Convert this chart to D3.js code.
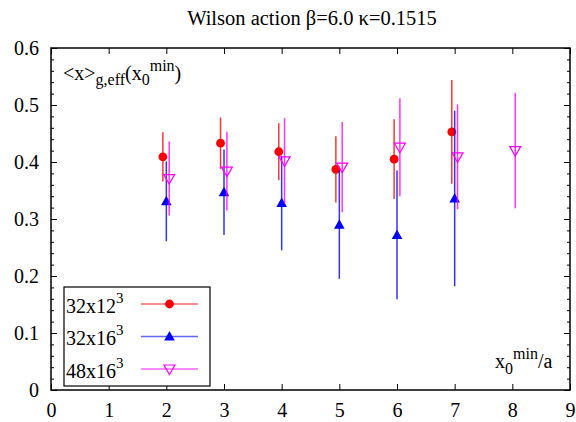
<!DOCTYPE html>
<html>
<head>
<meta charset="utf-8">
<script src="https://cdn.jsdelivr.net/npm/d3@7"></script>
<style>
  body { margin: 0; background: #fff; }
  .axis path, .axis line { stroke: #000; }
</style>
</head>
<body>
<svg id="chart" width="576" height="422"></svg>
<script>
// 32x12^3
const xRed = [1.94, 2.94, 3.95, 4.94, 5.95, 6.95]
const yRed = [0.409, 0.433, 0.418, 0.387, 0.405, 0.453]
const eRed = [0.043, 0.045, 0.050, 0.058, 0.070, 0.091]

// 32x16^3
const xBlue = [2.0, 3.0, 4.0, 5.0, 6.0, 7.0]
const yBlue = [0.331, 0.347, 0.328, 0.290, 0.272, 0.336]
const eBlue = [0.070, 0.075, 0.083, 0.095, 0.113, 0.154]

// 48x16^3
const xPink = [2.05, 3.05, 4.05, 5.05, 6.05, 7.05, 8.05]
const yPink = [0.371, 0.384, 0.402, 0.391, 0.426, 0.409, 0.420]
const ePink = [0.065, 0.069, 0.075, 0.079, 0.086, 0.092, 0.101]

const xTicks = [0, 1, 2, 3, 4, 5, 6, 7, 8, 9]
const yTicks = [0, 0.1, 0.2, 0.3, 0.4, 0.5, 0.6]

const serif = 'Liberation Serif'
const margin = {top: 48, right: 6, bottom: 32, left: 51}
const width = 576 - margin.left - margin.right
const height = 422 - margin.top - margin.bottom

const svg = d3.select('#chart')
const g = svg.append('g')
  .attr('transform', 'translate(' + margin.left + ',' + margin.top + ')')

const x = d3.scaleLinear().domain([0, 9]).range([0, width])
const y = d3.scaleLinear().domain([0, 0.6]).range([height, 0])

// axes, ticks pointing inward
const minorY = d3.range(0, 0.601, 0.02)

g.append('g').attr('class', 'axis')
  .attr('transform', 'translate(0,' + height + ')')
  .call(d3.axisBottom(x).tickValues(xTicks).tickSize(-6).tickPadding(13).tickFormat(d3.format('d')))
  .call(a => a.select('.domain').remove())
g.append('g').attr('class', 'axis')
  .call(d3.axisTop(x).tickValues(xTicks).tickSize(-6).tickFormat(''))
  .call(a => a.select('.domain').remove())

g.append('g').attr('class', 'axis')
  .call(d3.axisLeft(y).tickValues(minorY).tickSize(-3).tickFormat(''))
  .call(a => a.select('.domain').remove())
g.append('g').attr('class', 'axis')
  .call(d3.axisLeft(y).tickValues(yTicks).tickSize(-6).tickPadding(12).tickFormat(d => d === 0 ? '0' : d3.format('.1f')(d)))
  .call(a => a.select('.domain').remove())
g.append('g').attr('class', 'axis')
  .attr('transform', 'translate(' + width + ',0)')
  .call(d3.axisRight(y).tickValues(minorY).tickSize(-3).tickFormat(''))
  .call(a => a.select('.domain').remove())
g.append('g').attr('class', 'axis')
  .attr('transform', 'translate(' + width + ',0)')
  .call(d3.axisRight(y).tickValues(yTicks).tickSize(-6).tickFormat(''))
  .call(a => a.select('.domain').remove())

g.selectAll('.axis').attr('font-family', serif).attr('font-size', 20)
g.selectAll('.axis text').attr('fill', '#000')

g.append('rect')
  .attr('width', width).attr('height', height)
  .attr('fill', 'none').attr('stroke', '#000').attr('stroke-width', 1.5)

const series = [
  {name: '32x12', xs: xRed, ys: yRed, es: eRed, color: '#ff0000', symbol: 'circle'},
  {name: '32x16', xs: xBlue, ys: yBlue, es: eBlue, color: '#0000ff', symbol: 'up'},
  {name: '48x16', xs: xPink, ys: yPink, es: ePink, color: '#ff00ff', symbol: 'down'}
]

function drawMarker (sel, s, cx, cy) {
  if (s.symbol === 'circle') {
    sel.append('circle').attr('cx', cx).attr('cy', cy).attr('r', 4.4).attr('fill', s.color)
  } else if (s.symbol === 'up') {
    sel.append('path')
      .attr('d', 'M' + cx + ',' + (cy - 5.5) + 'L' + (cx + 5.3) + ',' + (cy + 4) + 'L' + (cx - 5.3) + ',' + (cy + 4) + 'Z')
      .attr('fill', s.color)
  } else {
    sel.append('path')
      .attr('d', 'M' + cx + ',' + (cy + 5.5) + 'L' + (cx + 5.5) + ',' + (cy - 4) + 'L' + (cx - 5.5) + ',' + (cy - 4) + 'Z')
      .attr('fill', 'none').attr('stroke', s.color).attr('stroke-width', 1.2)
  }
}

series.forEach(s => {
  const sg = g.append('g')
  s.xs.forEach((xv, i) => {
    sg.append('line')
      .attr('x1', x(xv)).attr('x2', x(xv))
      .attr('y1', y(s.ys[i] - s.es[i])).attr('y2', y(s.ys[i] + s.es[i]))
      .attr('stroke', s.color).attr('stroke-width', 1.5).attr('stroke-opacity', 0.8)
  })
  s.xs.forEach((xv, i) => drawMarker(sg, s, x(xv), y(s.ys[i])))
})

// legend
const lg = g.append('g').attr('transform', 'translate(13,239)')
lg.append('rect').attr('width', 146).attr('height', 99)
  .attr('fill', '#fff').attr('stroke', '#000').attr('stroke-width', 1.2)
series.forEach((s, i) => {
  const yy = 17 + i * 32.5
  const t = lg.append('text').attr('x', 2).attr('y', yy + 8.5)
    .attr('font-family', serif).attr('font-size', 20).attr('fill', '#000')
  t.append('tspan').text(s.name)
  t.append('tspan').attr('dy', -10).attr('font-size', 15).text('3')
  lg.append('line').attr('x1', 77).attr('x2', 134).attr('y1', yy).attr('y2', yy)
    .attr('stroke', s.color).attr('stroke-width', 1.5).attr('stroke-opacity', 0.6)
  drawMarker(lg, s, 105.5, yy)
})

// title
svg.append('text').attr('x', 312).attr('y', 25).attr('text-anchor', 'middle')
  .attr('font-family', serif).attr('font-size', 20.5).attr('fill', '#000')
  .text('Wilson action \u03b2=6.0 \u03ba=0.1515')

// y label
const yl = svg.append('text').attr('x', 63).attr('y', 80)
  .attr('font-family', serif).attr('font-size', 20).attr('fill', '#000')
yl.append('tspan').text('<x>')
yl.append('tspan').attr('dy', 5).attr('font-size', 16).text('g,eff')
yl.append('tspan').attr('dy', -5).text('(x')
yl.append('tspan').attr('dy', 5).attr('font-size', 16).text('0')
yl.append('tspan').attr('dy', -14).attr('font-size', 16).text('min')
yl.append('tspan').attr('dy', 9).text(')')

// x label
const xl = svg.append('text').attr('x', 495).attr('y', 368)
  .attr('font-family', serif).attr('font-size', 20).attr('fill', '#000')
xl.append('tspan').text('x')
xl.append('tspan').attr('dy', 6).attr('font-size', 16).text('0')
xl.append('tspan').attr('dy', -15).attr('font-size', 16).text('min')
xl.append('tspan').attr('dy', 9).text('/a')
</script>
</body>
</html>
